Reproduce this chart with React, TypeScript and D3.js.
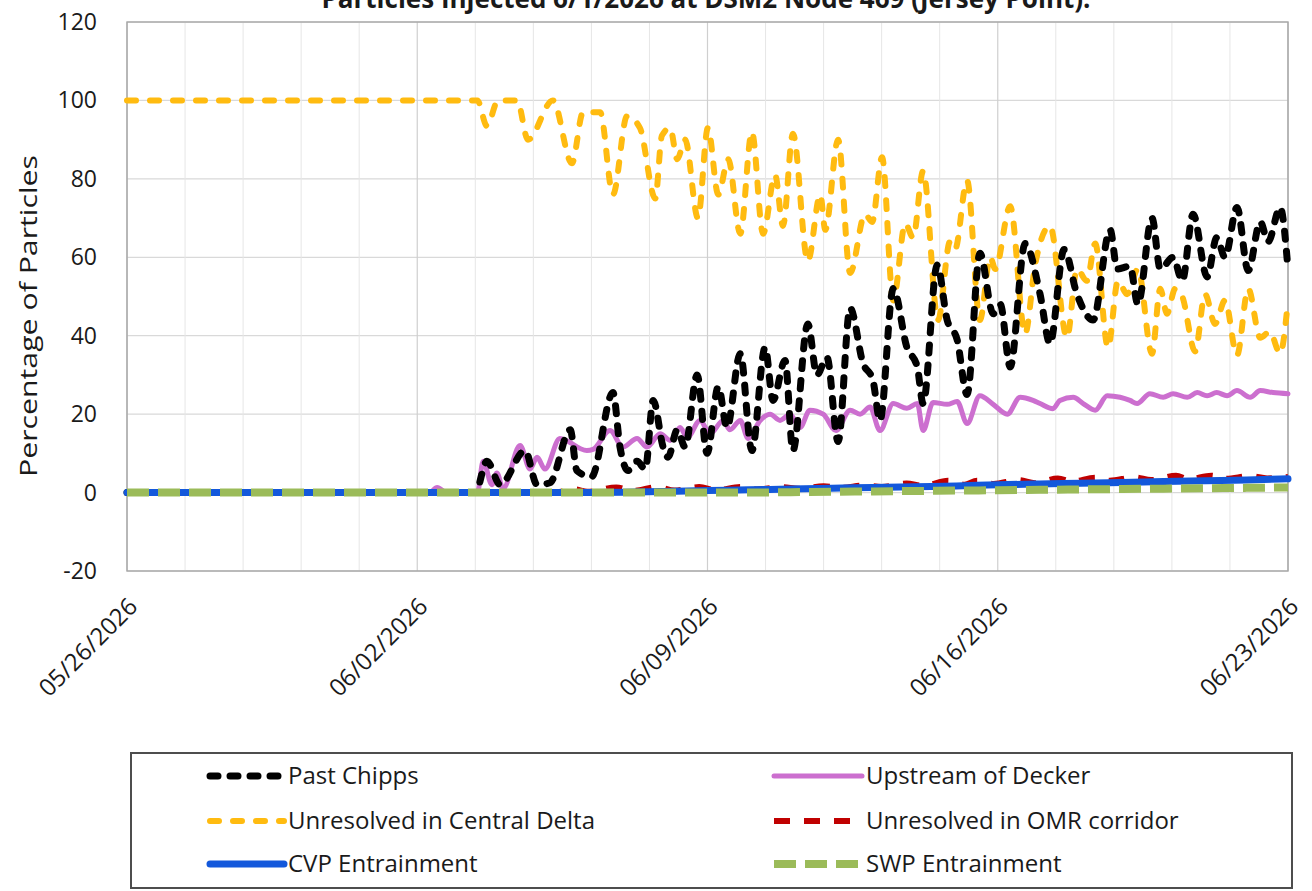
import React from "react";
import * as d3 from "d3";

const TITLE = "Particles Injected 6/1/2026 at DSM2 Node 469 (Jersey Point).";
const Y_LABEL = "Percentage of Particles";
const START_DATE = new Date(2026, 4, 26);
const END_DAY = 28;
const Y_TICKS = [-20, 0, 20, 40, 60, 80, 100, 120];
const X_TICK_DAYS = [0, 7, 14, 21, 28];
const MINOR_STEP_DAYS = 1.4;

// [day offset from 05/26/2026, percentage]
const pastChipps: [number, number][] = [
  [0, 0], [8.4, 0], [8.68, 8], [9.0, 2], [9.6, 10.7], [9.89, 2], [10.2, 2.5], [10.69, 16], [10.85, 5.6],
  [11.2, 4], [11.72, 25.5], [11.89, 11.6], [12.08, 5.6], [12.3, 8], [12.5, 6], [12.69, 23.5], [12.93, 11.6],
  [13.05, 9], [13.27, 16], [13.46, 11.6], [13.75, 30], [13.99, 10], [14.26, 27], [14.47, 16.6], [14.79, 35.4],
  [15.07, 10.7], [15.39, 37], [15.58, 23.5], [15.87, 33.7], [16.06, 10.7], [16.42, 43], [16.64, 30], [16.88, 34.5],
  [17.15, 13], [17.44, 47], [17.75, 33], [17.99, 28.6], [18.16, 18.4], [18.48, 52], [18.81, 37], [19.06, 32],
  [19.2, 22.7], [19.54, 58], [19.78, 44], [20.02, 39], [20.26, 25], [20.57, 61], [20.89, 45.6], [21.06, 48],
  [21.3, 32], [21.66, 63.5], [22.02, 50.6], [22.26, 38], [22.6, 62], [22.91, 50.6], [23.3, 44], [23.71, 67],
  [23.88, 57], [24.19, 57.7], [24.38, 48], [24.72, 70], [24.92, 57], [25.23, 60], [25.45, 54], [25.71, 71],
  [26.05, 55], [26.28, 65], [26.48, 60], [26.77, 72.7], [27.04, 56.6], [27.33, 69], [27.52, 64], [27.81, 72.7],
  [28.0, 57],
];

const upstreamDecker: [number, number][] = [
  [0, 0], [7.3, 0], [7.48, 1.3], [7.7, 0], [8.45, 0], [8.59, 8], [8.8, 2], [8.92, 5], [9.07, 1], [9.48, 12],
  [9.72, 6], [9.89, 9], [10.08, 6], [10.44, 13.8], [11.09, 10.7], [11.24, 11], [11.65, 15.8], [11.96, 11.6],
  [12.3, 13.8], [12.54, 11.6], [12.86, 15], [13.1, 13.3], [13.34, 16.6], [13.51, 14], [13.82, 18.4], [14.06, 15],
  [14.38, 18.4], [14.54, 16], [14.79, 18.4], [14.98, 13.8], [15.27, 18.4], [15.51, 20], [15.75, 18.4], [15.99, 20],
  [16.23, 16.6], [16.47, 21], [16.79, 20], [17.1, 15.8], [17.44, 21], [17.68, 20], [17.92, 21.8], [18.16, 15.8],
  [18.48, 22.7], [18.81, 21.5], [19.06, 22.7], [19.2, 15.8], [19.44, 23], [19.78, 22.5], [20.02, 23.2],
  [20.26, 17.6], [20.57, 24.7], [20.89, 22.5], [21.23, 20], [21.54, 24.3], [21.85, 23.5], [22.02, 22.7],
  [22.33, 21.4], [22.5, 23.5], [22.82, 24.3], [23.06, 22.7], [23.35, 21], [23.64, 24.7], [23.95, 24.3],
  [24.19, 23.5], [24.36, 22.7], [24.67, 25.2], [24.99, 24.3], [25.23, 25.2], [25.57, 24.3], [25.81, 25.5],
  [26.05, 24.7], [26.28, 25.5], [26.53, 24.7], [26.77, 26], [27.09, 24.3], [27.33, 26], [27.64, 25.5], [28.0, 25.2],
];

const centralDelta: [number, number][] = [
  [0, 100], [8.45, 100], [8.68, 93.5], [8.95, 100], [9.41, 100], [9.67, 90], [10.27, 100], [10.73, 84], [11.0, 97],
  [11.41, 97], [11.72, 76], [12.06, 96], [12.37, 93], [12.74, 75], [12.9, 91], [13.1, 93], [13.27, 85], [13.46, 90],
  [13.77, 70], [14.01, 93], [14.26, 76], [14.5, 85], [14.79, 66], [15.07, 92], [15.34, 66], [15.63, 81],
  [15.82, 68], [16.06, 91.5], [16.42, 59], [16.72, 76], [16.84, 67], [17.15, 90], [17.44, 56], [17.8, 71],
  [17.97, 69], [18.21, 85.5], [18.48, 49], [18.77, 68.6], [18.96, 65], [19.2, 82], [19.56, 44], [19.85, 64],
  [19.97, 62], [20.26, 79.6], [20.57, 44], [20.82, 60], [20.94, 57], [21.3, 73], [21.66, 40.5], [21.9, 58],
  [22.26, 68], [22.67, 39.5], [22.91, 57], [23.15, 54], [23.35, 63.5], [23.66, 37], [23.9, 54], [24.12, 50.6],
  [24.38, 57], [24.72, 35.4], [24.92, 52], [25.08, 45.6], [25.28, 52], [25.45, 50], [25.76, 36], [26.0, 50.6],
  [26.24, 43], [26.48, 49], [26.77, 35], [27.04, 52], [27.33, 39.5], [27.56, 41], [27.81, 35.5], [28.0, 49],
];

const omrCorridor: [number, number][] = [
  [0, 0], [10.3, 0], [10.8, 0.8], [11.1, 0.2], [11.8, 1.3], [12.2, 0.4], [12.8, 1.4], [13.2, 0.5], [13.8, 1.4],
  [14.2, 0.6], [14.8, 1.4], [15.2, 0.8], [15.8, 1.4], [16.2, 1.0], [16.8, 1.6], [17.2, 1.2], [17.8, 1.8],
  [18.2, 1.4], [18.8, 2.3], [19.2, 1.7], [19.8, 3.0], [20.2, 2.0], [20.5, 3.0], [20.9, 2.2], [21.5, 3.2],
  [21.9, 2.4], [22.45, 3.6], [22.8, 2.8], [23.35, 3.8], [23.7, 3.0], [24.3, 3.9], [24.7, 3.2], [25.3, 4.3],
  [25.6, 3.4], [26.15, 4.3], [26.5, 3.5], [27.1, 4.2], [27.5, 3.6], [28.0, 4.0],
];

const cvpEntrainment: [number, number][] = [
  [0, 0], [11, 0], [12, 0.1], [13, 0.3], [14, 0.5], [15, 0.7], [16, 0.9], [17, 1.1], [18, 1.3], [19, 1.5],
  [20, 1.7], [21, 2.0], [22, 2.2], [23, 2.4], [24, 2.6], [25, 2.8], [26, 3.0], [27, 3.2], [28, 3.5],
];

const swpEntrainment: [number, number][] = [
  [0, 0], [15, 0], [16, 0.1], [17, 0.2], [18, 0.3], [19, 0.4], [20, 0.5], [21, 0.6], [22, 0.7], [23, 0.8],
  [24, 0.9], [25, 1.0], [26, 1.1], [27, 1.2], [28, 1.3],
];

type Series = {
  name: string;
  data: [number, number][];
  color: string;
  width: number;
  dash?: string;
  cap: "round" | "butt";
};

const SERIES: Record<string, Series> = {
  chipps: { name: "Past Chipps", data: pastChipps, color: "#000000", width: 7, dash: "8 12", cap: "round" },
  decker: { name: "Upstream of Decker", data: upstreamDecker, color: "#CC6FCF", width: 5, cap: "round" },
  central: { name: "Unresolved in Central Delta", data: centralDelta, color: "#FFBB10", width: 6, dash: "9 14", cap: "round" },
  omr: { name: "Unresolved in OMR corridor", data: omrCorridor, color: "#C00000", width: 6, dash: "16 14", cap: "butt" },
  cvp: { name: "CVP Entrainment", data: cvpEntrainment, color: "#1358DB", width: 7, cap: "round" },
  swp: { name: "SWP Entrainment", data: swpEntrainment, color: "#9BBB59", width: 8, dash: "22 9", cap: "butt" },
};

const DRAW_ORDER = ["decker", "central", "chipps", "omr", "cvp", "swp"];
const LEGEND_ROWS = [["chipps", "decker"], ["central", "omr"], ["cvp", "swp"]];

const FONT = "'Open Sans', 'DejaVu Sans', sans-serif";

const W = 1312;
const H = 891;
const PLOT = { left: 127, right: 1288, top: 22, bottom: 571 };

function dayToDate(d: number): Date {
  return new Date(START_DATE.getTime() + d * 86400000);
}

export default function App() {
  const x = d3.scaleTime().domain([START_DATE, dayToDate(END_DAY)]).range([PLOT.left, PLOT.right]);
  const y = d3.scaleLinear().domain([-20, 120]).range([PLOT.bottom, PLOT.top]);
  const fmt = d3.timeFormat("%m/%d/%Y");
  const line = d3
    .line<[number, number]>()
    .x((p) => x(dayToDate(p[0])))
    .y((p) => y(p[1]))
    .curve(d3.curveMonotoneX);

  const minorDays = d3.range(MINOR_STEP_DAYS, END_DAY - 0.01, MINOR_STEP_DAYS).filter(
    (d) => !X_TICK_DAYS.some((t) => Math.abs(t - d) < 0.01)
  );

  const legendY = [776, 821, 864];
  const legendCols = [
    { x0: 210, x1: 284, tx: 288 },
    { x0: 774, x1: 862, tx: 866 },
  ];

  return (
    <svg
      width={W}
      height={H}
      style={{ position: "absolute", left: 0, top: 0, background: "#fff" }}
      fontFamily={FONT}
    >
      <rect x={0} y={0} width={W} height={H} fill="#fff" />
      <text x={706} y={8} textAnchor="middle" fontSize={26} fontWeight="bold" fill="#1a1a1a">
        {TITLE}
      </text>

      {/* gridlines */}
      {Y_TICKS.map((t) => (
        <line key={"h" + t} x1={PLOT.left} x2={PLOT.right} y1={y(t)} y2={y(t)} stroke="#D9D9D9" strokeWidth={1.2} />
      ))}
      {minorDays.map((d) => (
        <line key={"m" + d} x1={x(dayToDate(d))} x2={x(dayToDate(d))} y1={PLOT.top} y2={PLOT.bottom} stroke="#E6E6E6" strokeWidth={1} />
      ))}
      {X_TICK_DAYS.map((d) => (
        <line key={"M" + d} x1={x(dayToDate(d))} x2={x(dayToDate(d))} y1={PLOT.top} y2={PLOT.bottom} stroke="#CFCFCF" strokeWidth={1.2} />
      ))}
      <rect
        x={PLOT.left}
        y={PLOT.top}
        width={PLOT.right - PLOT.left}
        height={PLOT.bottom - PLOT.top}
        fill="none"
        stroke="#A6A6A6"
        strokeWidth={1.4}
      />

      {/* series */}
      {DRAW_ORDER.map((k) => {
        const s = SERIES[k];
        return (
          <path
            key={k}
            d={line(s.data) || ""}
            fill="none"
            stroke={s.color}
            strokeWidth={s.width}
            strokeDasharray={s.dash}
            strokeLinecap={s.cap}
            strokeLinejoin="round"
          />
        );
      })}

      {/* y ticks */}
      {Y_TICKS.map((t) => (
        <text key={"yt" + t} x={97} y={y(t)} dy="0.35em" textAnchor="end" fontSize={23} fill="#1a1a1a">
          {t}
        </text>
      ))}
      <text
        transform={`translate(37,316) rotate(-90)`}
        textAnchor="middle"
        fontSize={23}
        fill="#1a1a1a"
        textLength={322}
        lengthAdjust="spacingAndGlyphs"
      >
        {Y_LABEL}
      </text>

      {/* x ticks */}
      {X_TICK_DAYS.map((d) => {
        const px = x(dayToDate(d));
        return (
          <text
            key={"xt" + d}
            transform={`translate(${px + 12},${PLOT.bottom + 37}) rotate(-45)`}
            textAnchor="end"
            fontSize={24}
            fill="#1a1a1a"
          >
            {fmt(dayToDate(d))}
          </text>
        );
      })}

      {/* legend */}
      <rect x={131} y={753} width={1161} height={135} fill="#fff" stroke="#4D4D4D" strokeWidth={2} />
      {LEGEND_ROWS.map((row, ri) =>
        row.map((k, ci) => {
          const s = SERIES[k];
          const c = legendCols[ci];
          const ly = legendY[ri];
          return (
            <g key={k}>
              <line
                x1={c.x0}
                x2={c.x1}
                y1={ly}
                y2={ly}
                stroke={s.color}
                strokeWidth={s.width}
                strokeDasharray={s.dash}
                strokeLinecap={s.cap}
              />
              <text x={c.tx} y={ly} dy="0.35em" fontSize={24} fill="#1a1a1a">
                {s.name}
              </text>
            </g>
          );
        })
      )}
    </svg>
  );
}
